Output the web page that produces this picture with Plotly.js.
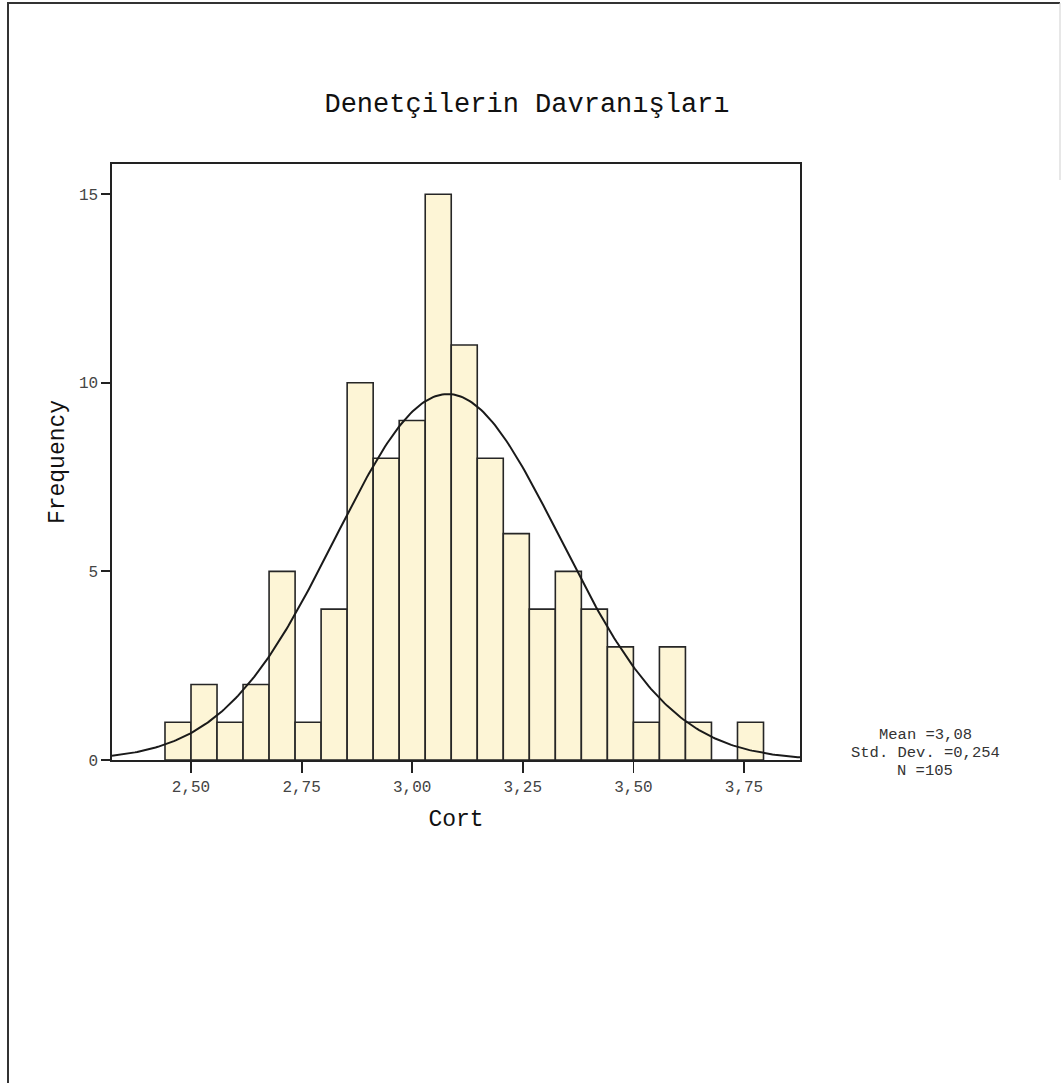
<!DOCTYPE html>
<html>
<head>
<meta charset="utf-8">
<script src="https://cdn.plot.ly/plotly-3.0.1.min.js"></script>
<style>
  html, body { margin: 0; padding: 0; background: #ffffff; }
  #chart { width: 1062px; height: 1083px; }
</style>
</head>
<body>
<div id="chart"></div>
<script>
// ---- Data ----
const chartTitle = "Denetçilerin Davranışları";
const xTitle = "Cort";
const yTitle = "Frequency";
// Histogram bins: first bin starts at 2.50 - 1/17, each bin 1/17 wide
const binStart = 2.5 - 1 / 17;
const binWidth = 1 / 17;
const frequencies = [1, 2, 1, 2, 5, 1, 4, 10, 8, 9, 15, 11, 8, 6, 4, 5, 4, 3, 1, 3, 1, 0, 1];
const xTickValues = [2.50, 2.75, 3.00, 3.25, 3.50, 3.75];
const yTickValues = [0, 5, 10, 15];
// Summary statistics shown beside the chart
const statMean = 3.08;
const statSD = 0.254;
const statN = 105;
const statLabels = ["Mean =3,08", "Std. Dev. =0,254", "N =105"];

// ---- Layout geometry (pixels) ----
const W = 1062, H = 1083;
const L = 112, R = 800, T = 164, B = 760;
const xRange = [2.3214, 3.8766];
const yRange = [0, 15.8];

const binCenters = frequencies.map((_, i) => binStart + binWidth * (i + 0.5));
const binWidths = frequencies.map(() => binWidth);

// Fitted normal curve (from the stated mean, sd and N, scaled to bin width)
const curveX = [];
const curveY = [];
const nPts = 300;
for (let i = 0; i <= nPts; i++) {
  const x = xRange[0] + (xRange[1] - xRange[0]) * i / nPts;
  const z = (x - statMean) / statSD;
  curveX.push(x);
  curveY.push(statN * binWidth / (statSD * Math.sqrt(2 * Math.PI)) * Math.exp(-0.5 * z * z));
}

const mono = "Liberation Mono, Courier New, monospace";

const bars = {
  type: "bar",
  x: binCenters,
  y: frequencies,
  width: binWidths,
  marker: { color: "#fdf5d6", line: { color: "#262626", width: 1.6 } },
  hoverinfo: "x+y",
  showlegend: false
};

const curve = {
  type: "scatter",
  mode: "lines",
  x: curveX,
  y: curveY,
  line: { color: "#1a1a1a", width: 2 },
  hoverinfo: "skip",
  showlegend: false
};

const pw = R - L, ph = B - T;
const px = p => (p - L) / pw;
const py = p => (B - p) / ph;

const statY = [735, 753, 771];
const statAnnotations = statLabels.map((t, i) => ({
  xref: "paper", yref: "paper",
  x: px(925), y: py(statY[i]),
  xanchor: "center", yanchor: "middle",
  showarrow: false,
  borderpad: 0,
  text: t,
  font: { family: mono, size: 15.5, color: "#333" }
}));

const layout = {
  width: W,
  height: H,
  margin: { l: L, r: W - R, t: T, b: H - B, pad: 0 },
  paper_bgcolor: "#ffffff",
  plot_bgcolor: "#ffffff",
  separators: ",.",
  bargap: 0,
  showlegend: false,
  font: { family: mono, color: "#222" },
  title: {
    text: chartTitle,
    font: { family: mono, size: 27, color: "#111" },
    x: px(527), xref: "paper", xanchor: "center",
    y: 1 - 103 / H, yanchor: "middle"
  },
  xaxis: {
    range: xRange,
    tickmode: "array",
    tickvals: xTickValues,
    tickformat: ".2f",
    ticks: "outside",
    ticklen: 11,
    tickwidth: 1.8,
    tickcolor: "#222",
    tickfont: { family: mono, size: 16, color: "#444" },
    showline: true,
    linecolor: "#222",
    linewidth: 1.6,
    mirror: true,
    showgrid: false,
    zeroline: false,
    title: { text: xTitle, font: { family: mono, size: 23, color: "#111" }, standoff: 14 }
  },
  yaxis: {
    range: yRange,
    tickmode: "array",
    tickvals: yTickValues,
    ticks: "outside",
    ticklen: 9,
    tickwidth: 1.8,
    tickcolor: "#222",
    tickfont: { family: mono, size: 16, color: "#444" },
    showline: true,
    linecolor: "#222",
    linewidth: 1.6,
    mirror: true,
    showgrid: false,
    zeroline: false,
    title: { text: yTitle, font: { family: mono, size: 23, color: "#111" }, standoff: 8 }
  },
  annotations: statAnnotations,
  shapes: [
    { type: "line", xref: "paper", yref: "paper", x0: px(7), x1: px(1060), y0: py(3), y1: py(3),
      line: { color: "#333", width: 2 } },
    { type: "line", xref: "paper", yref: "paper", x0: px(8), x1: px(8), y0: py(3), y1: py(1083),
      line: { color: "#333", width: 2 } },
    { type: "line", xref: "paper", yref: "paper", x0: px(1060), x1: px(1060), y0: py(3), y1: py(180),
      line: { color: "#cfcfcf", width: 1 } }
  ]
};

Plotly.newPlot("chart", [bars, curve], layout, { displayModeBar: false, staticPlot: true });
</script>
</body>
</html>
